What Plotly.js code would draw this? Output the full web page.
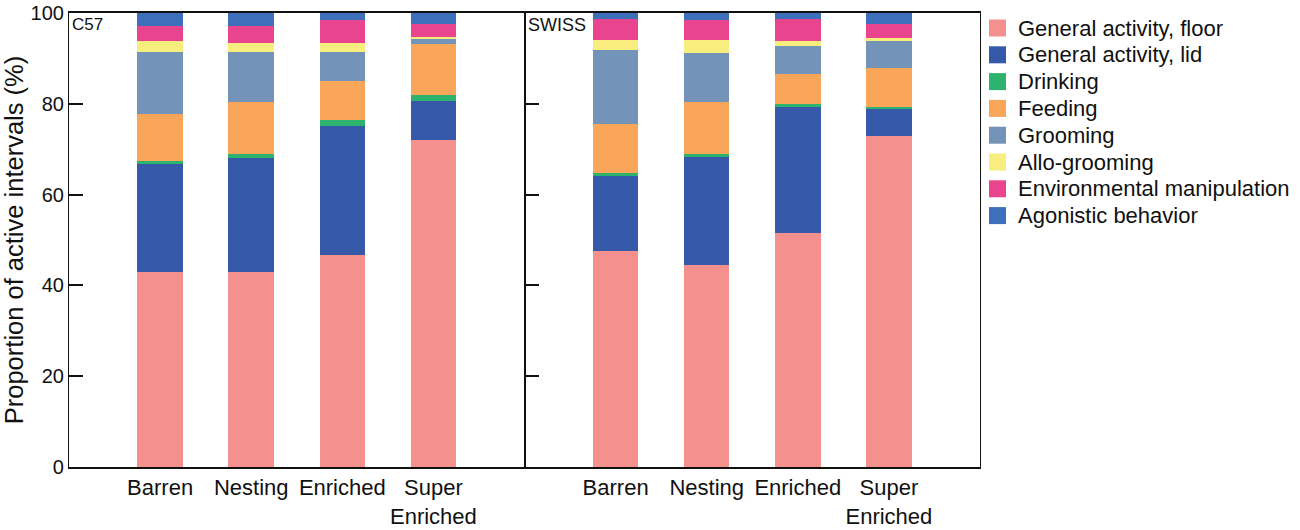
<!DOCTYPE html>
<html>
<head>
<meta charset="utf-8">
<script src="https://cdn.plot.ly/plotly-3.0.1.min.js"></script>
<style>
  html, body { margin: 0; padding: 0; background: #fff; }
  #chart { width: 1300px; height: 530px; }
</style>
</head>
<body>
<div id="chart"></div>
<script>
// ─── Data (% of active intervals) ───

const conditions = ["Barren", "Nesting", "Enriched", "Super<br>Enriched"];
const behaviours = [
  "General activity, floor",
  "General activity, lid",
  "Drinking",
  "Feeding",
  "Grooming",
  "Allo-grooming",
  "Environmental manipulation",
  "Agonistic behavior",
];
const colours = ["#f4908e", "#3558a8", "#2db36e", "#f9a65a", "#7393b8", "#f8ee7e", "#e8458e", "#3e6fba"];

// C57
const c57Floor = [42.9, 42.9, 46.6, 72.0];
const c57Lid = [23.8, 25.1, 28.6, 8.6];
const c57Drinking = [0.8, 0.9, 1.2, 1.3];
const c57Feeding = [10.2, 11.4, 8.6, 11.2];
const c57Grooming = [13.8, 11.2, 6.5, 1.3];
const c57Allo = [2.3, 2.0, 2.0, 0.4];
const c57Env = [3.4, 3.7, 5.0, 2.8];
const c57Agon = [2.8, 2.8, 1.5, 2.4];

// SWISS
const swissFloor = [47.6, 44.5, 51.6, 73.0];
const swissLid = [16.6, 23.8, 27.9, 5.8];
const swissDrinking = [0.5, 0.6, 0.4, 0.6];
const swissFeeding = [10.8, 11.4, 6.7, 8.4];
const swissGrooming = [16.3, 10.8, 6.2, 6.0];
const swissAllo = [2.3, 3.0, 1.0, 0.6];
const swissEnv = [4.6, 4.4, 4.9, 3.1];
const swissAgon = [1.3, 1.5, 1.3, 2.5];

const c57Series = [c57Floor, c57Lid, c57Drinking, c57Feeding, c57Grooming, c57Allo, c57Env, c57Agon];
const swissSeries = [swissFloor, swissLid, swissDrinking, swissFeeding, swissGrooming, swissAllo, swissEnv, swissAgon];

// ─── Traces ───

const font = "Liberation Sans, Arial, sans-serif";

const makeTraces = (series, xa, ya) =>
  series.map((vals, i) => ({
    type: "bar",
    x: conditions,
    y: vals,
    xaxis: xa,
    yaxis: ya,
    name: behaviours[i],
    showlegend: false,
    width: 0.5,
    marker: { color: colours[i], line: { width: 0 } },
    hovertemplate: "%{y:.1f}%<extra>" + behaviours[i] + "</extra>",
  }));

const traces = makeTraces(c57Series, "x", "y")
  .concat(makeTraces(swissSeries, "x2", "y2"));

// ─── Legend (drawn by hand so row spacing matches the figure) ───
// plot area is 69..980 px wide and 13..467 px high
const plotL = 69, plotW = 911, plotB = 467, plotH = 454;
const paperX = (px) => (px - plotL) / plotW;
const paperY = (py) => (plotB - py) / plotH;

const legendShapes = behaviours.map((b, i) => ({
  type: "rect",
  xref: "paper",
  yref: "paper",
  xsizemode: "pixel",
  ysizemode: "pixel",
  xanchor: paperX(997.5),
  yanchor: paperY(28 + i * 26.8),
  x0: -8.5, x1: 8.5, y0: -8.5, y1: 8.5,
  fillcolor: colours[i],
  line: { width: 0 },
}));

const legendLabels = behaviours.map((b, i) => ({
  text: b,
  xref: "paper",
  yref: "paper",
  x: paperX(1016),
  y: paperY(28 + i * 26.8),
  xanchor: "left",
  yanchor: "middle",
  showarrow: false,
  font: { size: 22, family: font, color: "#111" },
}));

const xBase = {
  showline: true,
  linecolor: "#111",
  linewidth: 1.5,
  mirror: true,
  ticks: "",
  showgrid: false,
  zeroline: false,
  tickfont: { size: 22, color: "#111", family: font },
  range: [-1, 4],
};

const yBase = {
  range: [0, 100],
  tickvals: [0, 20, 40, 60, 80, 100],
  showline: true,
  linecolor: "#111",
  linewidth: 1.2,
  mirror: true,
  ticks: "inside",
  ticklen: 14,
  tickwidth: 1.5,
  tickcolor: "#111",
  showgrid: false,
  zeroline: false,
  tickfont: { size: 20, color: "#111", family: font },
};

const layout = {
  width: 1300,
  height: 530,
  paper_bgcolor: "#fff",
  plot_bgcolor: "#fff",
  font: { family: font, color: "#111" },
  barmode: "stack",
  showlegend: false,
  margin: { l: plotL, r: 1300 - plotL - plotW, t: 13, b: 530 - plotB },
  xaxis: Object.assign({}, xBase, { domain: [0, 0.5], anchor: "y" }),
  xaxis2: Object.assign({}, xBase, { domain: [0.5, 1], anchor: "y2" }),
  yaxis: Object.assign({}, yBase, {
    anchor: "x",
    title: { text: "Proportion of active intervals (%)", font: { size: 25.5, family: font, color: "#111" }, standoff: 8 },
  }),
  yaxis2: Object.assign({}, yBase, { anchor: "x2", showticklabels: false }),
  shapes: legendShapes,
  annotations: [
    { text: "C57", xref: "x domain", yref: "y domain", x: 0.003, y: 1.0, xanchor: "left", yanchor: "top", showarrow: false, font: { size: 17, family: font, color: "#111" } },
    { text: "SWISS", xref: "x2 domain", yref: "y2 domain", x: 0.003, y: 1.0, xanchor: "left", yanchor: "top", showarrow: false, font: { size: 18, family: font, color: "#111" } },
  ].concat(legendLabels),
};

Plotly.newPlot("chart", traces, layout, { displayModeBar: false, responsive: false });
</script>
</body>
</html>
